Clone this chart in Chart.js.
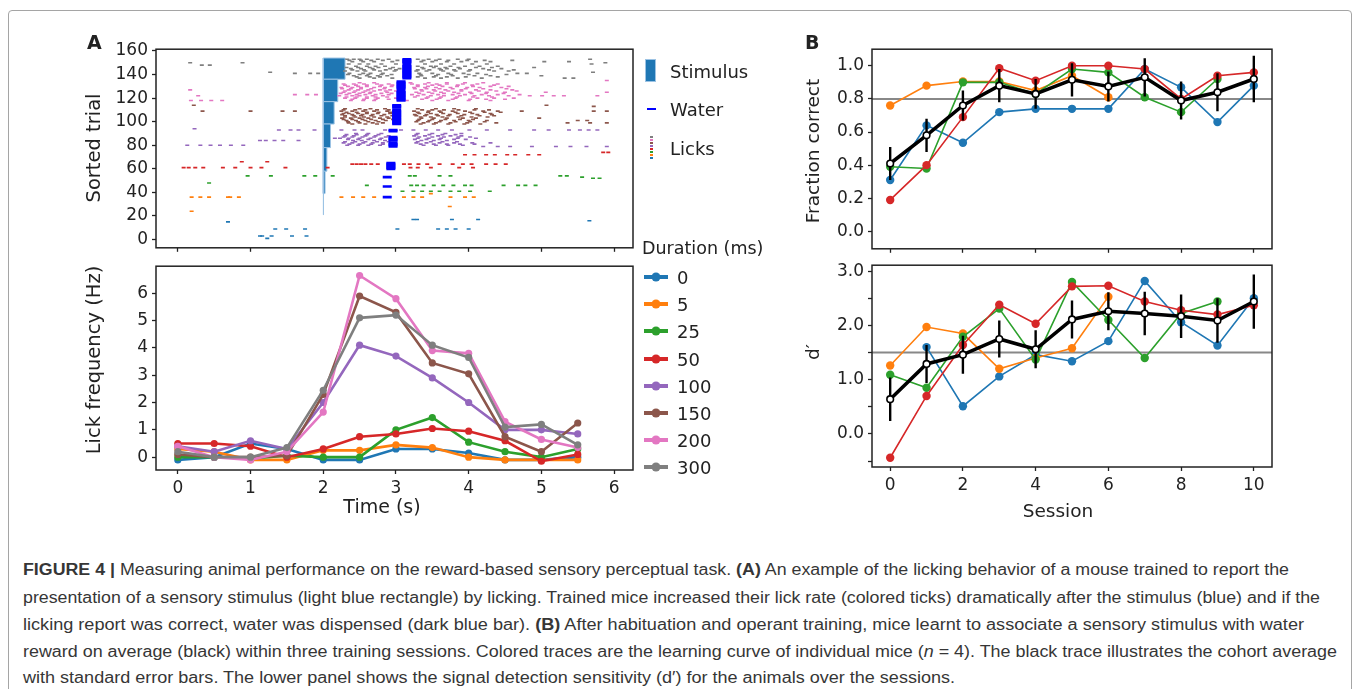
<!DOCTYPE html>
<html lang="en">
<head>
<meta charset="UTF-8">
<title>Figure 4</title>
<script src="https://cdn.jsdelivr.net/npm/chart.js@4.4.0/dist/chart.umd.min.js"></script>
<style>
  body { margin: 0; width: 1354px; height: 689px; overflow: hidden; position: relative; background: #fff; font-family: 'DejaVu Sans', sans-serif; color: #222; }
  .box { position: absolute; left: 8px; top: 10px; width: 1342px; height: 720px; border: 1.5px solid #a5a5a5; border-radius: 4px; }
  canvas { position: absolute; }
  .t { position: absolute; white-space: nowrap; transform: translate(-50%, -50%); }
  .rot { transform: translate(-50%, -50%) rotate(-90deg); }
  .letter { position: absolute; font-weight: bold; font-size: 19px; }
  .leg { position: absolute; font-size: 18px; white-space: nowrap; transform: translateY(-50%); }
  .hl { position: absolute; height: 4px; width: 24px; transform: translateY(-50%); }
  .hd { position: absolute; width: 9px; height: 9px; border-radius: 50%; transform: translate(-50%, -50%); }
  .cap { position: absolute; left: 23px; font-family: 'Liberation Sans', Arial, sans-serif; font-size: 16px; line-height: 20px; color: #363636; white-space: nowrap; transform-origin: 0 50%; }
</style>
</head>
<body>
<div class="box"></div>

<canvas id="raster"></canvas>
<canvas id="freq"></canvas>
<canvas id="frac"></canvas>
<canvas id="dprime"></canvas>

<div class="letter" style="left:87px;top:31px">A</div>
<div class="letter" style="left:805px;top:31px">B</div>
<div class="t rot" style="left:93px;top:148px;font-size:19.5px">Sorted trial</div>
<div class="t rot" style="left:93px;top:360px;font-size:19.5px">Lick frequency (Hz)</div>
<div class="t" style="left:382px;top:506px;font-size:19px">Time (s)</div>
<div class="t rot" style="left:812px;top:151px;font-size:18.5px">Fraction correct</div>
<div class="t rot" style="left:812px;top:352px;font-size:18.5px">d′</div>
<div class="t" style="left:1058px;top:510px;font-size:18.5px">Session</div>

<div id="legTop"></div>
<div id="legLow"></div>

<div class="cap" style="top:560px"><b>FIGURE 4 |</b> Measuring animal performance on the reward-based sensory perceptual task. <b>(A)</b> An example of the licking behavior of a mouse trained to report the</div>
<div class="cap" style="top:588px">presentation of a sensory stimulus (light blue rectangle) by licking. Trained mice increased their lick rate (colored ticks) dramatically after the stimulus (blue) and if the</div>
<div class="cap" style="top:615px">licking report was correct, water was dispensed (dark blue bar). <b>(B)</b> After habituation and operant training, mice learnt to associate a sensory stimulus with water</div>
<div class="cap" style="top:642px">reward on average (black) within three training sessions. Colored traces are the learning curve of individual mice (<i>n</i> = 4). The black trace illustrates the cohort average</div>
<div class="cap" style="top:668px">with standard error bars. The lower panel shows the signal detection sensitivity (d′) for the animals over the sessions.</div>

<script>
// ---- data ----
var durations = [0, 5, 25, 50, 100, 150, 200, 300];
var colors = ['#1f77b4', '#ff7f0e', '#2ca02c', '#d62728', '#9467bd', '#8c564b', '#e377c2', '#7f7f7f'];
var groupStart = [0, 21, 39, 58, 78, 98, 117, 136];
var groupEnd = [21, 39, 58, 78, 98, 117, 136, 154];

// lick times per trial: [trial, [times in s]]
var licks0 = [[17, [3.24, 3.29, 3.77, 4.13]], [16, [5.66]], [15, [0.69]],
  [9, [1.34, 1.49, 1.75, 3.02, 3.58, 3.7, 3.82, 4.0]], [3, [1.13, 1.16, 1.29, 1.57, 1.77]], [1, [1.23]]];
var licks5 = [[39, [3.48]],
  [36, [0.19, 0.31, 0.43, 0.69, 0.72, 0.84, 2.25, 2.41, 2.55, 2.7, 3.11, 3.24, 3.36, 3.75, 3.95, 4.07]],
  [28, [3.74]], [24, [0.19]]];
var licks25 = [[54, [0.96, 1.28, 1.74, 1.89, 2.13, 3.19, 3.26, 3.6, 3.75, 5.26, 5.35]], [53, [5.56]], [52, [5.71, 5.8]],
  [48, [0.43]], [46, [2.6, 3.21, 3.29, 3.38, 3.52, 3.65, 3.79, 3.95, 4.04, 4.48, 4.68, 4.78, 4.92]],
  [41, [3.09, 3.24, 3.36, 3.48, 3.6, 3.75, 3.87, 4.02, 4.29]]];
var licks50 = [[74, [5.85, 5.92]], [72, [3.95, 4.08, 4.24, 4.36, 4.53, 4.64, 4.82, 4.97]], [66, [0.88, 1.23]],
  [64, [2.4, 2.46, 2.52, 2.58, 2.66, 2.75, 3.11, 3.19, 3.31, 3.43, 3.6, 3.78, 3.92, 4.04, 4.24, 4.37, 4.51]],
  [61, [0.08, 0.15, 0.24, 0.35, 0.62, 0.79, 1.0, 1.15, 1.48, 2.06, 3.2, 3.3, 3.48, 3.87, 4.06]]];
var licks100 = [[94, [0.23]],
  [93, [1.39, 1.55, 1.66, 1.88, 2.25, 2.43, 2.54, 2.85, 3.07, 3.24, 3.41, 3.58, 3.77, 4.01, 4.25, 4.57, 4.9, 5.1, 5.38, 5.53, 5.65, 5.77]],
  [90, [2.45, 2.62, 2.8, 3.3, 3.5, 3.68, 3.9]],
  [89, [2.32, 2.46, 2.6, 2.76, 3.28, 3.46, 3.64, 3.82]],
  [88, [2.3, 2.42, 2.58, 2.72, 2.9, 3.25, 3.4, 3.58, 3.75, 3.9]],
  [87, [2.28, 2.4, 2.54, 2.7, 2.86, 3.32, 3.5, 3.66, 3.86, 4.02]],
  [86, [2.16, 2.23, 2.35, 2.5, 2.65, 2.8, 3.3, 3.45, 3.62, 3.85, 4.1]],
  [85, [2.34, 2.48, 2.62, 2.78, 3.26, 3.42, 3.6, 3.8, 3.96]],
  [84, [1.13, 1.21, 1.33, 1.45, 1.66, 2.41, 2.53, 2.7, 2.85, 3.35, 3.52, 3.7]],
  [83, [2.3, 2.44, 2.58, 2.74, 2.9, 3.3, 3.48, 3.64, 3.84]],
  [82, [2.28, 2.4, 2.55, 2.68, 2.82, 3.28, 3.42, 3.6, 3.8, 4.05, 4.3]],
  [81, [2.36, 2.5, 2.66, 2.82, 3.34, 3.52, 3.7, 3.88, 4.08]],
  [80, [0.13, 0.31, 0.45, 0.58, 0.73, 0.9, 2.33, 2.48, 2.62, 2.78, 3.38, 3.55, 3.72, 3.92]],
  [79, [4.2, 4.4, 4.57, 4.87, 5.2, 5.4, 5.62, 5.9]]];
var licks150 = [[114, [0.22, 5.07]], [113, [5.72]],
  [111, [2.3, 2.5, 2.65, 2.85, 3.3, 3.55, 3.8, 4.1]],
  [110, [2.28, 2.44, 2.58, 2.74, 2.9, 3.36, 3.5, 3.66, 3.86, 4.08, 4.28]],
  [109, [0.34, 1.0, 1.44, 1.61, 2.25, 2.4, 2.55, 2.7, 2.88, 3.25, 3.45, 3.6, 3.78, 3.95, 4.2, 4.4, 4.73, 5.72, 5.9]],
  [108, [2.32, 2.46, 2.6, 2.76, 2.92, 3.3, 3.44, 3.62, 3.82, 4.02, 4.22, 4.44]],
  [107, [2.28, 2.35, 2.48, 2.6, 2.75, 2.92, 3.32, 3.48, 3.65, 3.85, 4.05, 4.3]],
  [106, [2.26, 2.4, 2.54, 2.68, 2.84, 3.26, 3.42, 3.56, 3.74, 3.94, 4.12, 4.32]],
  [105, [2.3, 2.42, 2.52, 2.66, 2.8, 2.95, 3.28, 3.4, 3.58, 3.72, 3.9, 4.15, 4.35]],
  [104, [2.3, 2.44, 2.56, 2.7, 2.88, 3.34, 3.48, 3.64, 3.86, 4.04, 4.26]],
  [103, [2.26, 2.38, 2.5, 2.62, 2.78, 2.9, 3.35, 3.52, 3.7, 3.92, 4.1, 4.97]],
  [102, [2.28, 2.4, 2.54, 2.66, 2.82, 2.96, 3.32, 3.5, 3.68, 3.88, 4.06]],
  [101, [2.32, 2.45, 2.58, 2.72, 2.86, 3.3, 3.46, 3.62, 3.8, 4.0, 4.25, 5.5, 5.63]],
  [100, [2.34, 2.48, 2.62, 2.76, 3.28, 3.44, 3.6, 3.82, 4.02, 4.22]],
  [99, [2.35, 2.5, 2.68, 2.82, 3.38, 3.55, 3.75, 3.98, 4.38, 5.36, 5.67, 5.9]],
  [98, [2.4, 2.58, 2.74, 3.34, 3.52, 3.72, 3.94, 4.16]]];
var licks200 = [[135, [5.9]], [133, [2.5, 2.7, 3.2, 3.45, 3.7, 3.95, 4.2]],
  [132, [2.28, 2.42, 2.56, 2.74, 2.9, 3.22, 3.4, 3.56, 3.7, 3.92, 4.12, 4.4]],
  [131, [2.3, 2.45, 2.6, 2.8, 2.95, 3.3, 3.5, 3.6, 3.85, 4.05, 4.35]],
  [130, [2.34, 2.48, 2.6, 2.78, 2.94, 3.3, 3.44, 3.64, 3.84, 4.06, 4.3, 4.55]],
  [129, [2.25, 2.4, 2.52, 2.7, 2.85, 3.25, 3.4, 3.55, 3.75, 3.98, 4.15, 4.45]],
  [128, [2.26, 2.38, 2.52, 2.66, 2.84, 3.26, 3.42, 3.6, 3.78, 3.96, 4.2, 4.52]],
  [127, [0.17, 2.35, 2.48, 2.62, 2.78, 2.92, 3.35, 3.52, 3.68, 3.9, 4.1, 4.3, 4.6]],
  [126, [2.3, 2.44, 2.58, 2.7, 2.86, 3.0, 3.36, 3.54, 3.72, 3.9, 4.14, 4.38, 4.66]],
  [125, [2.28, 2.42, 2.55, 2.65, 2.88, 3.28, 3.45, 3.62, 3.8, 4.02, 4.25, 4.5, 5.06, 5.9]],
  [124, [2.24, 2.36, 2.5, 2.64, 2.8, 2.94, 3.32, 3.5, 3.66, 3.86, 4.04, 4.24, 4.48]],
  [123, [1.61, 1.78, 1.9, 2.32, 2.46, 2.58, 2.72, 2.9, 3.22, 3.38, 3.58, 3.78, 3.95, 4.18, 4.4, 4.7]],
  [122, [0.28, 2.22, 2.4, 2.5, 2.68, 2.82, 3.3, 3.48, 3.66, 3.88, 4.08, 4.28, 4.55, 4.84, 5.01, 5.17, 5.31, 5.77]],
  [121, [2.32, 2.46, 2.6, 2.72, 2.88, 3.26, 3.44, 3.62, 3.84, 4.06, 4.32]],
  [120, [2.3, 2.44, 2.6, 2.75, 3.0, 3.42, 3.6, 3.82, 4.12, 4.35, 4.62]],
  [119, [2.4, 2.56, 2.72, 2.9, 3.36, 3.56, 3.78, 4.02, 4.24, 4.5]],
  [118, [0.18, 0.32, 0.46, 0.61, 2.38, 2.55, 2.7, 3.15, 3.5, 3.72, 4.0, 4.3]]];
var licks300 = [[153, [2.33, 2.42, 2.5, 2.6, 2.75, 2.9, 3.3, 3.45, 3.6, 3.85, 4.0, 5.67]],
  [152, [2.36, 2.52, 2.66, 2.82, 3.02, 3.38, 3.55, 3.72, 3.98, 4.22, 4.6]],
  [151, [2.4, 2.55, 2.7, 2.95, 3.35, 3.5, 3.7, 3.9, 4.1, 4.3, 5.04, 5.38]],
  [150, [0.17, 0.89, 5.88]],
  [149, [2.35, 2.5, 2.62, 2.8, 3.0, 3.4, 3.62, 3.8, 4.05, 4.25, 5.69]],
  [148, [0.33, 0.44]],
  [147, [2.45, 2.6, 2.72, 2.85, 3.3, 3.48, 3.55, 3.75, 3.95, 4.15, 4.4]],
  [146, [2.32, 2.48, 2.64, 2.76, 2.96, 3.36, 3.52, 3.68, 3.86, 4.1, 4.32, 4.9]],
  [145, [2.38, 2.52, 2.68, 2.92, 3.05, 3.38, 3.6, 3.7, 3.88, 4.2, 4.45]],
  [144, [2.4, 2.56, 2.7, 2.86, 3.0, 3.3, 3.46, 3.62, 3.8, 4.02, 4.28, 4.62]],
  [143, [2.3, 2.47, 2.58, 2.78, 2.98, 3.28, 3.42, 3.65, 3.82, 4.0, 4.35, 4.55]],
  [142, [1.27, 5.71]],
  [141, [1.61, 1.82, 1.93, 2.36, 2.55, 2.65, 2.82, 3.32, 3.5, 3.72, 3.93, 4.12, 4.67, 4.8]],
  [140, [2.34, 2.5, 2.62, 2.8, 2.94, 3.34, 3.58, 3.76, 4.0, 4.24, 4.52]],
  [139, [2.42, 2.6, 2.75, 2.88, 3.35, 3.55, 3.78, 4.08, 4.3, 5.0]],
  [138, [2.46, 2.64, 2.78, 3.3, 3.52, 3.7, 3.96, 4.4]],
  [137, [2.5, 2.7, 2.95, 3.4, 3.62, 3.85, 4.18, 5.32, 5.44]]];
var licks = [licks0, licks5, licks25, licks50, licks100, licks150, licks200, licks300];

var waterTimes = [null, 2.88, 2.88, 2.93, 2.96, 3.01, 3.07, 3.15];
var waterTrials = [
  [],
  [36],
  [45, 53],
  [60, 61, 62, 63, 64, 65],
  [79, 80, 81, 82, 84, 85, 86, 87, 92, 93],
  [98, 99, 100, 101, 102, 103, 104, 105, 106, 107, 108, 109, 110, 112, 113, 114],
  [118, 119, 120, 121, 122, 123, 124, 125, 126, 128, 129, 130, 131, 132, 133, 134],
  [137, 138, 139, 140, 141, 142, 143, 144, 145, 146, 147, 148, 150, 151, 152, 153]
];

var freqTime = [0, 0.5, 1, 1.5, 2, 2.5, 3, 3.5, 4, 4.5, 5, 5.5];
var freq0 = [-0.1, 0.0, 0.5, 0.3, -0.1, -0.1, 0.3, 0.3, 0.15, -0.1, -0.1, 0.0];
var freq5 = [0.3, 0.2, -0.1, -0.1, 0.25, 0.25, 0.45, 0.35, 0.0, -0.1, -0.1, -0.1];
var freq25 = [0.0, 0.0, -0.05, 0.05, 0.0, 0.0, 1.0, 1.45, 0.55, 0.2, 0.0, 0.3];
var freq50 = [0.5, 0.5, 0.4, 0.0, 0.3, 0.75, 0.85, 1.05, 0.95, 0.6, -0.15, 0.1];
var freq100 = [0.4, 0.2, 0.6, 0.3, 2.0, 4.1, 3.7, 2.9, 2.0, 1.0, 1.0, 0.85];
var freq150 = [0.1, 0.0, 0.0, 0.05, 2.3, 5.9, 5.3, 3.45, 3.05, 0.75, 0.2, 1.25];
var freq200 = [0.4, 0.0, -0.1, 0.2, 1.65, 6.65, 5.8, 3.9, 3.8, 1.3, 0.65, 0.35];
var freq300 = [0.2, 0.0, 0.0, 0.35, 2.45, 5.1, 5.2, 4.1, 3.65, 1.1, 1.2, 0.45];
var freqs = [freq0, freq5, freq25, freq50, freq100, freq150, freq200, freq300];

var sessions = [0, 1, 2, 3, 4, 5, 6, 7, 8, 9, 10];
var mouseColors = ['#1f77b4', '#ff7f0e', '#2ca02c', '#d62728'];
var fcBlue = [0.31, 0.64, 0.535, 0.72, 0.74, 0.74, 0.74, 0.98, 0.87, 0.66, 0.88];
var fcOrange = [0.76, 0.88, 0.905, 0.905, 0.85, 0.94, 0.81, null, null, null, null];
var fcGreen = [0.39, 0.38, 0.9, 0.9, 0.83, 0.98, 0.96, 0.81, 0.72, 0.92, null];
var fcRed = [0.19, 0.4, 0.69, 0.985, 0.91, 1.0, 1.0, 0.98, 0.8, 0.94, 0.96];
var fcMean = [0.41, 0.58, 0.76, 0.88, 0.83, 0.915, 0.875, 0.93, 0.79, 0.84, 0.92];
var fcErr = [0.1, 0.1, 0.09, 0.1, 0.09, 0.1, 0.09, 0.115, 0.115, 0.115, 0.14];
var fcCriterion = 0.8;

var dpBlue = [null, 1.6, 0.51, 1.06, 1.46, 1.34, 1.71, 2.82, 2.06, 1.63, 2.5];
var dpOrange = [1.26, 1.97, 1.85, 1.2, 1.4, 1.58, 2.53, null, null, null, null];
var dpGreen = [1.09, 0.85, 1.79, 2.31, 1.37, 2.8, 2.1, 1.4, 2.22, 2.44, null];
var dpRed = [-0.44, 0.7, 1.64, 2.38, 2.03, 2.72, 2.73, 2.44, 2.28, 2.2, 2.37];
var dpMean = [0.64, 1.29, 1.46, 1.75, 1.56, 2.11, 2.26, 2.22, 2.17, 2.09, 2.44];
var dpErr = [0.4, 0.35, 0.35, 0.34, 0.35, 0.35, 0.35, 0.4, 0.4, 0.41, 0.5];
var dpCriterion = 1.5;

// ---- helpers ----
Chart.defaults.font.family = 'DejaVu Sans';
var PAD = 14;

var framePlugin = {
  id: 'frame',
  afterDatasetsDraw: function(chart) {
    var a = chart.chartArea, c = chart.ctx;
    c.save();
    c.strokeStyle = '#222';
    c.lineWidth = 1.5;
    c.strokeRect(a.left, a.top, a.right - a.left, a.bottom - a.top);
    c.restore();
  }
};

function axis(min, max, step, cb) {
  return {
    type: 'linear', min: min, max: max,
    grid: { drawOnChartArea: false, drawTicks: true, tickLength: 4, tickWidth: 1.3, tickColor: '#222' },
    border: { display: false },
    ticks: { stepSize: step, includeBounds: false, autoSkip: false, maxRotation: 0, color: '#222',
      font: { size: 17 }, padding: 4, callback: cb }
  };
}

function makeChart(id, area, yw, xh, datasets, xAxis, yAxis) {
  var cv = document.getElementById(id);
  var w = area.right - area.left + yw + PAD, h = area.bottom - area.top + PAD + xh;
  cv.width = w; cv.height = h;
  cv.style.left = (area.left - yw) + 'px';
  cv.style.top = (area.top - PAD) + 'px';
  xAxis.afterFit = function(s) { s.height = xh; };
  yAxis.afterFit = function(s) { s.width = yw; };
  return new Chart(cv, {
    type: 'scatter',
    data: { datasets: datasets },
    options: {
      responsive: false, animation: false, devicePixelRatio: 1, events: [],
      layout: { padding: { top: PAD, right: PAD, left: 0, bottom: 0 } },
      plugins: { legend: { display: false }, tooltip: { enabled: false } },
      scales: { x: xAxis, y: yAxis }
    },
    plugins: [framePlugin]
  });
}

function series(xs, ys) {
  var out = [];
  xs.forEach(function(x, i) { if (ys[i] !== null) out.push({ x: x, y: ys[i] }); });
  return out;
}

function errorSegments(xs, mean, err) {
  var out = [];
  xs.forEach(function(x, i) {
    out.push({ x: x, y: mean[i] - err[i] }, { x: x, y: mean[i] + err[i] }, { x: x, y: null });
  });
  return out;
}

var noLabel = function() { return ''; };

// ---- A top: raster ----
var rasterSets = [];
durations.forEach(function(d, g) {
  var pts = [];
  licks[g].forEach(function(row) {
    row[1].forEach(function(t) { pts.push({ x: t, y: row[0] }); });
  });
  rasterSets.push({ data: pts, pointStyle: 'line', pointRadius: 2, borderColor: colors[g],
    borderWidth: 1.6, order: 1 });

  if (waterTrials[g].length) {
    rasterSets.push({ data: waterTrials[g].map(function(tr) { return { x: waterTimes[g], y: tr }; }),
      pointStyle: 'line', pointRadius: 4.5, borderColor: '#0000ff', borderWidth: 2.6, order: 0 });
  }
  if (d > 0) {
    var x1 = 2 + d / 1000, lo = groupStart[g], hi = groupEnd[g];
    rasterSets.push({ type: 'line', data: [{ x: 2, y: lo }, { x: x1, y: lo }, { x: x1, y: hi }, { x: 2, y: hi }, { x: 2, y: lo }],
      fill: 'shape', backgroundColor: '#1f77b4', borderColor: '#9cc3e4', borderWidth: 1,
      pointRadius: 0, tension: 0, order: 2 });
  }
});
makeChart('raster', { left: 156, top: 49, right: 633, bottom: 252 }, 60, 10, rasterSets,
  axis(-0.3, 6.26, 1, noLabel),
  axis(-7, 161.5, 20, function(v) { return v; }));

// ---- A bottom: lick frequency ----
var freqSets = freqs.map(function(f, g) {
  return { type: 'line', data: series(freqTime, f), borderColor: colors[g], backgroundColor: colors[g],
    borderWidth: 2.6, pointRadius: 3.6, pointBackgroundColor: colors[g], pointBorderWidth: 0,
    tension: 0, fill: false, order: 7 - g };
});
makeChart('freq', { left: 156, top: 266, right: 633, bottom: 470 }, 40, 30, freqSets,
  axis(-0.3, 6.26, 1, function(v) { return v; }),
  axis(-0.47, 6.99, 1, function(v) { return v; }));

// ---- B panels ----
function sessionSets(lines, mean, err, criterion) {
  var sets = [];
  sets.push({ type: 'line', data: series(sessions, mean), borderColor: '#000', borderWidth: 3.5,
    pointRadius: 3.3, pointBackgroundColor: '#fff', pointBorderColor: '#000', pointBorderWidth: 1.6,
    tension: 0, fill: false, order: 0 });
  sets.push({ type: 'line', data: errorSegments(sessions, mean, err), borderColor: '#000', borderWidth: 2.4,
    pointRadius: 0, spanGaps: false, tension: 0, fill: false, order: 1 });
  lines.forEach(function(l, i) {
    sets.push({ type: 'line', data: series(sessions, l), borderColor: mouseColors[i], borderWidth: 1.6,
      pointRadius: 4.2, pointBackgroundColor: mouseColors[i], pointBorderWidth: 0,
      tension: 0, fill: false, order: 5 - i });
  });
  sets.push({ type: 'line', data: [{ x: -0.5, y: criterion }, { x: 10.5, y: criterion }], borderColor: '#888',
    borderWidth: 2, pointRadius: 0, fill: false, order: 9 });
  return sets;
}

makeChart('frac', { left: 872, top: 49, right: 1272, bottom: 253 }, 60, 10,
  sessionSets([fcBlue, fcOrange, fcGreen, fcRed], fcMean, fcErr, fcCriterion),
  axis(-0.5, 10.5, 2, noLabel),
  axis(-0.105, 1.1, 0.2, function(v) { return v.toFixed(1); }));

makeChart('dprime', { left: 872, top: 265, right: 1272, bottom: 467 }, 60, 30,
  sessionSets([dpBlue, dpOrange, dpGreen, dpRed], dpMean, dpErr, dpCriterion),
  axis(-0.5, 10.5, 2, function(v) { return v; }),
  axis(-0.61, 3.11, 0.5, function(v) { return Math.abs(v % 1) < 1e-9 ? v.toFixed(1) : ''; }));

// ---- legends ----
var legTop = document.getElementById('legTop');
legTop.innerHTML =
  '<div style="position:absolute;left:645px;top:59px;width:11px;height:23px;background:#1f77b4;border:1px solid #9cc3e4;box-sizing:border-box"></div>' +
  '<div class="leg" style="left:670px;top:71px">Stimulus</div>' +
  '<div style="position:absolute;left:647px;top:108px;width:9px;height:2px;background:#0000ff"></div>' +
  '<div class="leg" style="left:670px;top:109px">Water</div>' +
  '<div class="leg" style="left:670px;top:148px">Licks</div>' +
  '<div class="leg" style="left:642px;top:248px;font-size:17.5px">Duration (ms)</div>';
colors.slice().reverse().forEach(function(c, i) {
  var d = document.createElement('div');
  d.style.cssText = 'position:absolute;left:650px;width:3px;height:2px;top:' + (136 + i * 3) + 'px;background:' + c;
  legTop.appendChild(d);
});

var legLow = document.getElementById('legLow');
var legY = [277, 304, 331, 359, 386, 413, 440, 467];
durations.forEach(function(d, g) {
  legLow.innerHTML +=
    '<div class="hl" style="left:644px;top:' + legY[g] + 'px;background:' + colors[g] + '"></div>' +
    '<div class="hd" style="left:656px;top:' + legY[g] + 'px;background:' + colors[g] + '"></div>' +
    '<div class="leg" style="left:677px;top:' + legY[g] + 'px">' + d + '</div>';
});

// stretch caption lines to the measured line ends
var capEnds = [1289, 1320, 1304, 1337, 955];
document.querySelectorAll('.cap').forEach(function(el, i) {
  var w = el.getBoundingClientRect().width;
  el.style.transform = 'scaleX(' + ((capEnds[i] - 23) / w) + ')';
});
</script>
</body>
</html>
